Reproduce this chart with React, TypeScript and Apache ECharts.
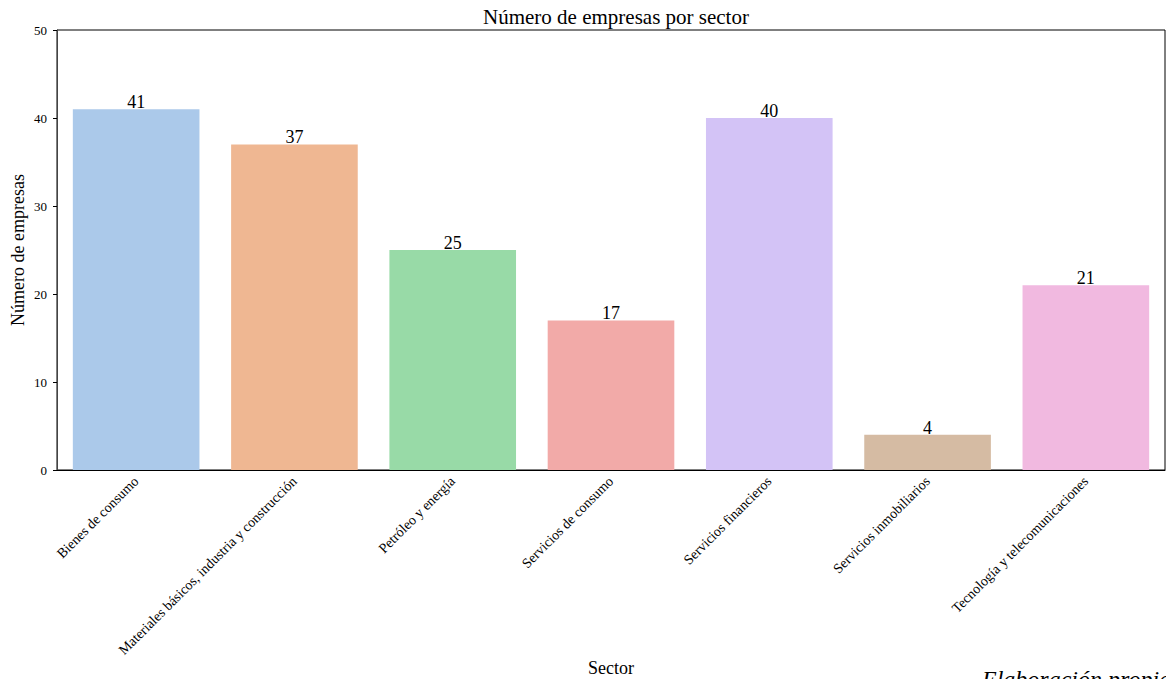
import React, { useEffect, useRef } from "react";
import * as echarts from "echarts";

const categories = [
  "Bienes de consumo",
  "Materiales básicos, industria y construcción",
  "Petróleo y energía",
  "Servicios de consumo",
  "Servicios financieros",
  "Servicios inmobiliarios",
  "Tecnología y telecomunicaciones",
];
const values = [41, 37, 25, 17, 40, 4, 21];
const colors = ["#abc9ea", "#efb792", "#98daa7", "#f2aaa8", "#d3c3f6", "#d5bba3", "#f1b9e0"];

const FONT = "'Liberation Serif', 'Times New Roman', serif";

export default function App() {
  const ref = useRef<HTMLDivElement>(null);
  useEffect(() => {
    const chart = echarts.init(ref.current!, null, { renderer: "svg" });
    chart.setOption({
      animation: false,
      textStyle: { fontFamily: FONT },
      title: {
        text: "Número de empresas por sector",
        left: 611,
        textAlign: "center",
        top: 1,
        textStyle: { fontFamily: FONT, fontSize: 21, fontWeight: "normal", color: "#000" },
      },
      grid: {
        left: 57,
        top: 30,
        width: 1108,
        bottom: 209,
        outerBoundsMode: "none",
        containLabel: false,
        show: true,
        borderColor: "#000",
        borderWidth: 1,
        backgroundColor: "transparent",
      },
      xAxis: {
        type: "category",
        data: categories,
        name: "Sector",
        nameLocation: "middle",
        nameGap: 198,
        nameMoveOverlap: false,
        nameTextStyle: { fontFamily: FONT, fontSize: 18, color: "#000", verticalAlign: "middle" },
        axisLine: { lineStyle: { color: "#000", width: 1 } },
        axisTick: { alignWithLabel: true, length: 4, lineStyle: { color: "#000" } },
        axisLabel: { rotate: 45, fontFamily: FONT, fontSize: 14, color: "#000", margin: 9, interval: 0 },
      },
      yAxis: {
        type: "value",
        min: 0,
        max: 50,
        interval: 10,
        name: "Número de empresas",
        nameLocation: "middle",
        nameGap: 39,
        nameRotate: 90,
        nameMoveOverlap: false,
        nameTextStyle: { fontFamily: FONT, fontSize: 18, color: "#000", verticalAlign: "middle" },
        splitLine: { show: false },
        axisLine: { show: true, lineStyle: { color: "#444", width: 1 } },
        axisTick: { show: true, length: 4, lineStyle: { color: "#000" } },
        axisLabel: { fontFamily: FONT, fontSize: 13, color: "#000", margin: 10 },
      },
      series: [
        {
          type: "bar",
          data: values.map((v, i) => ({ value: v, itemStyle: { color: colors[i] } })),
          barCategoryGap: "20%",
          label: {
            show: true,
            position: "top",
            distance: -2,
            fontFamily: FONT,
            fontSize: 18,
            color: "#000",
          },
        },
      ],
      graphic: [
        {
          type: "text",
          left: 982,
          top: 667,
          style: {
            text: "Elaboración propia",
            font: `italic 24px ${FONT}`,
            fill: "#000",
          },
        },
      ],
    });
    return () => chart.dispose();
  }, []);
  return (
    <div
      ref={ref}
      style={{ position: "fixed", left: 0, top: 0, width: 1166, height: 679, background: "#fff" }}
    />
  );
}
